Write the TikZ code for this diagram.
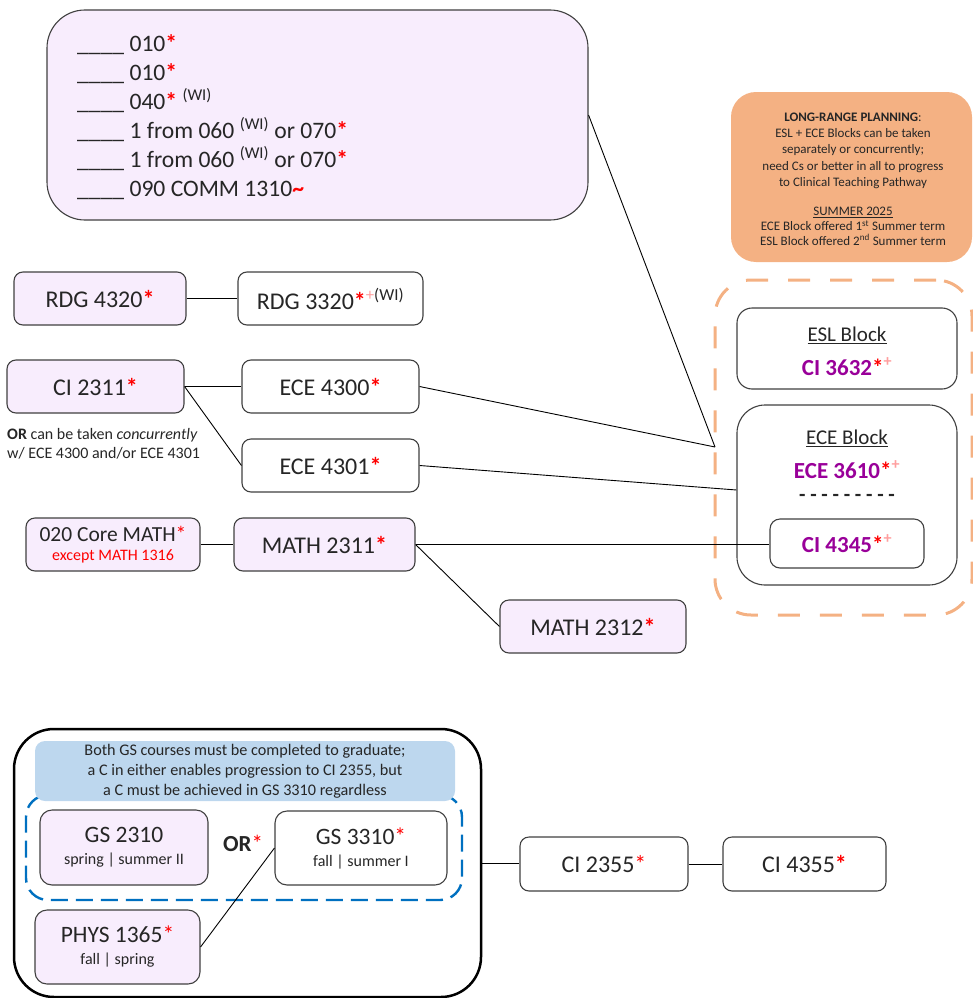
\documentclass[tikz,border=0pt]{standalone}
\usepackage{fontspec}
\setmainfont{Carlito}
\usetikzlibrary{calc}
\definecolor{lpurple}{HTML}{F8EDFD}
\definecolor{orng}{HTML}{F4B183}
\definecolor{lblue}{HTML}{BDD7EE}
\definecolor{dblue}{HTML}{0070C0}
\definecolor{purp}{HTML}{990099}
\definecolor{pinkp}{HTML}{FF9F9F}
\definecolor{txt}{HTML}{262626}
\newcommand{\fs}[2]{\fontsize{#1}{#2}\selectfont}
\newcommand{\rast}{{\color{red}\bfseries*}}
\newcommand{\pplus}{\textsuperscript{\color{pinkp}+}}
\tikzset{
  box/.style={draw=black!75, line width=1.1pt, rounded corners=9pt, align=center, inner sep=0pt, font=\fs{24}{27}, text=txt},
  pbox/.style={box, fill=lpurple},
  conn/.style={draw=black, line width=0.9pt},
  grp/.style={rounded corners=#1, inner sep=0pt},
}
\begin{document}
\begin{tikzpicture}[x=1pt,y=-1pt]
\useasboundingbox (0,0) rectangle (973,998);

% top box
\node[pbox, rounded corners=38pt, minimum width=541pt, minimum height=210pt] (topbox) at (317.5,115) {};
\node[anchor=west, align=left, inner sep=0pt, text=txt, font=\fs{23.6}{29}] (toptext) at (77,117) {%
\_\_\_\_ 010\rast\\
\_\_\_\_ 010\rast\\
\_\_\_\_ 040\rast\ \textsuperscript{(WI)}\\
\_\_\_\_ 1 from 060 \textsuperscript{(WI)} or 070\rast\\
\_\_\_\_ 1 from 060 \textsuperscript{(WI)} or 070\rast\\
\_\_\_\_ 090 COMM 1310{\color{red}\bfseries\textasciitilde}};

% orange note
\node[fill=orng, rounded corners=25pt, minimum width=241pt, minimum height=170pt, inner sep=0pt] (orangenote) at (851.5,177) {};
\node[align=center, inner sep=0pt, text=txt, font=\fs{13}{16.3}] (orangetext) at (853,179) {%
\textbf{LONG-RANGE PLANNING}:\\
ESL + ECE Blocks can be taken\\
separately or concurrently;\\
need Cs or better in all to progress\\
to Clinical Teaching Pathway\\[13pt]
\underline{SUMMER 2025}\\[-1.5pt]
ECE Block offered 1\textsuperscript{st} Summer term\\[-1.5pt]
ESL Block offered 2\textsuperscript{nd} Summer term};

% orange dashed group
\node[draw=orng, line width=3pt, dash pattern=on 22pt off 20pt, grp=36pt, minimum width=257pt, minimum height=335pt] (orangegrp) at (843.5,447.5) {};
\coordinate (jn) at (715,447);

\node[box, fill=white, rounded corners=15pt, minimum width=220pt, minimum height=81pt] (eslblock) at (847,348.5) {};
\node[inner sep=0pt, font=\fs{21}{24}, text=txt] (esltitle) at (847,335) {\underline{ESL Block}};
\node[inner sep=0pt, font=\fs{23}{25}\bfseries, text=purp] (ci3632) at (847,367) {CI 3632\rast\pplus};

\node[box, fill=white, rounded corners=28pt, minimum width=220pt, minimum height=180pt] (eceblock) at (847,495) {};
\node[inner sep=0pt, font=\fs{21}{24}, text=txt] (ecetitle) at (847,438) {\underline{ECE Block}};
\node[inner sep=0pt, font=\fs{23}{25}\bfseries, text=purp] (ece3610) at (847,470) {ECE 3610\rast\pplus};
\node[inner sep=0pt, font=\fs{21}{24}\bfseries, text=txt] (ecedash) at (847,498) {- - - - - - - - -};
\node[box, fill=white, rounded corners=10pt, minimum width=154pt, minimum height=49pt, font=\fs{23}{25}\bfseries, text=purp] (ci4345) at (847,543.5) {CI 4345\rast\pplus};

% left nodes
\node[pbox, minimum width=172pt, minimum height=53pt] (rdg4320) at (100,298.5) {RDG 4320\rast};
\node[box, fill=white, minimum width=185pt, minimum height=53pt] (rdg3320) at (330.5,298.5) {RDG 3320\rast\textsuperscript{{\color{pinkp}+}(WI)}};
\node[pbox, minimum width=177pt, minimum height=53pt] (ci2311) at (95.5,386.5) {CI 2311\rast};
\node[box, fill=white, minimum width=177pt, minimum height=53pt] (ece4300) at (330.5,386.5) {ECE 4300\rast};
\node[box, fill=white, minimum width=177pt, minimum height=53pt] (ece4301) at (330.5,465.5) {ECE 4301\rast};
\node[anchor=west, align=left, inner sep=0pt, text=txt, font=\fs{16}{18.5}] (cinote) at (7,444) {\textbf{OR} can be taken \textit{concurrently}\\ w/ ECE 4300 and/or ECE 4301};
\node[pbox, minimum width=174pt, minimum height=53pt, font=\fs{21.5}{24}] (coremath) at (113,544.5) {020 Core MATH{\color{red}*}\\[-5pt]{\fs{16}{17}\color{red}except MATH 1316}};
\node[pbox, minimum width=181pt, minimum height=53pt] (math2311) at (324.5,544.5) {MATH 2311\rast};
\node[pbox, minimum width=186pt, minimum height=53pt] (math2312) at (593,626.5) {MATH 2312\rast};

% connectors top
\draw[conn] (topbox.east) -- (jn);
\draw[conn] (ece4300.east) -- (jn);
\draw[conn] (ece4301.east) -- ($(eceblock.west)+(0,-5)$);
\draw[conn] (math2311.east) -- (math2311.east -| ci4345.west);
\draw[conn] (math2311.east) -- (math2312.west);
\draw[conn] (rdg4320.east) -- (rdg3320.west);
\draw[conn] (ci2311.east) -- (ece4300.west);
\draw[conn] (ci2311.east) -- (ece4301.west);
\draw[conn] (coremath.east) -- (math2311.west);

% bottom
\node[draw=black, line width=2.5pt, grp=40pt, minimum width=467pt, minimum height=268pt] (bigbox) at (247.5,863) {};
\node[draw=dblue, line width=2.4pt, dash pattern=on 17pt off 8pt, grp=22pt, minimum width=436pt, minimum height=105pt] (bluegrp) at (244,847.5) {};
\node[fill=lblue, rounded corners=10pt, minimum width=420pt, minimum height=60pt, inner sep=0pt, align=center, text=txt, font=\fs{16.2}{20}] (bluenote) at (245,771) {Both GS courses must be completed to graduate;\\ a C in either enables progression to CI 2355, but\\ a C must be achieved in GS 3310 regardless};
\node[pbox, rounded corners=12pt, minimum width=168pt, minimum height=75pt, font=\fs{23.5}{26}] (gs2310) at (124,847.5) {GS 2310\\[-4pt]{\fs{16}{17}spring | summer II}};
\node[inner sep=0pt, font=\fs{23}{25}, text=txt] (ortxt) at (243,843) {\textbf{OR}{\color{red}*}};
\node[box, fill=white, rounded corners=12pt, minimum width=172pt, minimum height=74pt, font=\fs{23.5}{26}] (gs3310) at (361,848) {GS 3310{\color{red}*}\\[-4pt]{\fs{16}{17}fall | summer I}};
\node[pbox, rounded corners=12pt, minimum width=165pt, minimum height=74pt, font=\fs{23.5}{26}] (phys1365) at (117.5,947) {PHYS 1365{\color{red}*}\\[-4pt]{\fs{16}{17}fall | spring}};
\node[box, fill=white, minimum width=168pt, minimum height=54pt] (ci2355) at (604,864) {CI 2355{\color{red}*}};
\node[box, fill=white, minimum width=163pt, minimum height=54pt] (ci4355) at (804.5,864) {CI 4355\rast};

\draw[conn] (phys1365.east) -- (gs3310.west);
\draw[conn] (bigbox.east) -- (bigbox.east -| ci2355.west);
\draw[conn] (ci2355.east) -- (ci4355.west);
\end{tikzpicture}
\end{document}
